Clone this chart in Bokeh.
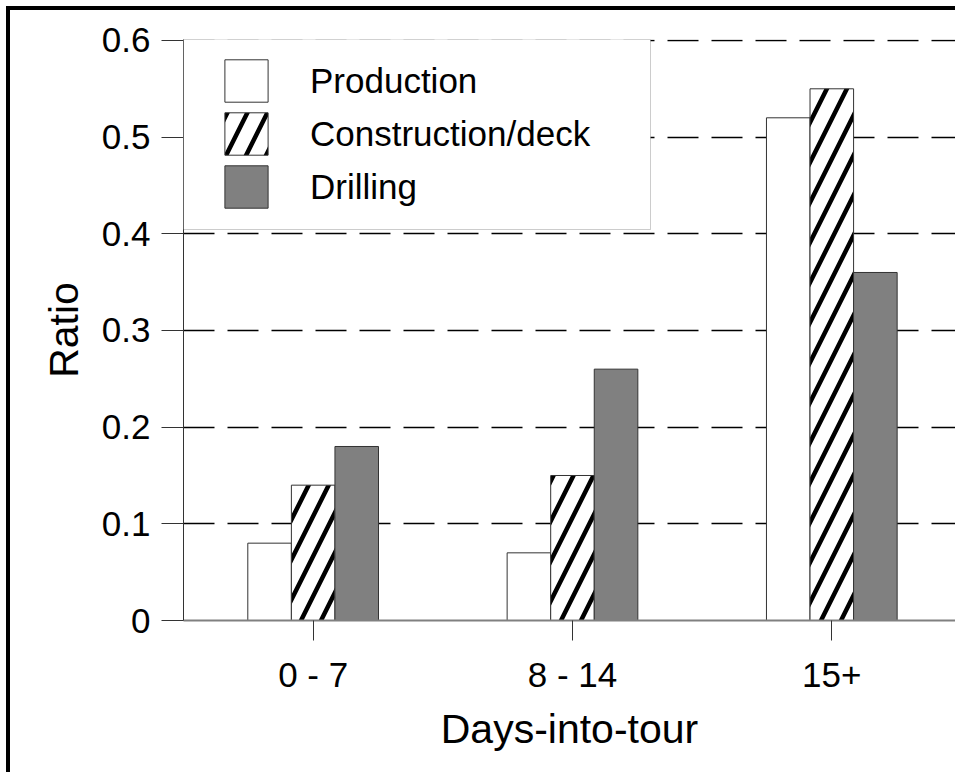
from bokeh.plotting import figure
from bokeh.models import (Range1d, FixedTicker, Legend, LegendItem, BoxAnnotation,
                          ColumnDataSource, GlobalInlineStyleSheet)
from bokeh.transform import dodge
from bokeh.embed import file_html
from bokeh.resources import INLINE

# Ratio of incidents by days into the tour, per work type
categories = ["0 - 7", "8 - 14", "15+"]
production = [0.08, 0.07, 0.52]
construction = [0.14, 0.15, 0.55]
drilling = [0.18, 0.26, 0.36]
y_ticks = [0, 0.1, 0.2, 0.3, 0.4, 0.5, 0.6]
y_tick_labels = ["0", "0.1", "0.2", "0.3", "0.4", "0.5", "0.6"]

FONT = "Liberation Sans"
BAR_W = 0.168

positions = list(range(len(categories)))
source = ColumnDataSource(dict(x=positions, production=production,
                               construction=construction, drilling=drilling))

p = figure(width=955, height=772, output_backend="svg", toolbar_location=None,
           x_range=Range1d(-0.5, 2.477), y_range=Range1d(0, 0.601),
           min_border_left=183, min_border_right=0, min_border_top=39,
           min_border_bottom=152)
p.outline_line_color = None
p.background_fill_color = "white"
p.border_fill_color = "white"

# horizontal dashed reference lines
p.xgrid.visible = False
p.ygrid.ticker = FixedTicker(ticks=y_ticks[1:])
p.ygrid.grid_line_color = "black"
p.ygrid.grid_line_width = 1.4
p.ygrid.grid_line_dash = "31 13"

outline = "#333333"
r_prod = p.vbar(x=dodge("x", -BAR_W, range=p.x_range), top="production", width=BAR_W,
                source=source, fill_color="white", line_color=outline, line_width=1)
r_cons = p.vbar(x=dodge("x", 0, range=p.x_range), top="construction", width=BAR_W,
                source=source, fill_color="white", line_color=outline, line_width=1,
                hatch_pattern="/", hatch_color="black", hatch_weight=4.5,
                hatch_scale=40)
r_dril = p.vbar(x=dodge("x", BAR_W, range=p.x_range), top="drilling", width=BAR_W,
                source=source, fill_color="#808080", line_color=outline, line_width=1)

# y axis
ya = p.yaxis[0]
ya.ticker = FixedTicker(ticks=y_ticks)
ya.major_label_overrides = {t: s for t, s in zip(y_ticks, y_tick_labels)}
ya.minor_tick_line_color = None
ya.major_tick_in = 0
ya.major_tick_out = 22
ya.major_tick_line_color = "#333333"
ya.axis_line_color = "#333333"
ya.major_label_standoff = 11
ya.major_label_text_font = FONT
ya.major_label_text_font_size = "35px"
ya.major_label_text_color = "black"
ya.axis_label = "Ratio"
ya.axis_label_text_font = FONT
ya.axis_label_text_font_size = "41px"
ya.axis_label_text_font_style = "normal"
ya.axis_label_text_color = "black"
ya.axis_label_standoff = 12

# x axis
xa = p.xaxis[0]
xa.ticker = FixedTicker(ticks=positions)
xa.major_label_overrides = {i: c for i, c in zip(positions, categories)}
xa.minor_tick_line_color = None
xa.major_tick_in = 0
xa.major_tick_out = 20
xa.major_tick_line_color = "#333333"
xa.axis_line_color = "#808080"
xa.axis_line_width = 2
xa.major_label_standoff = 14
xa.major_label_text_font = FONT
xa.major_label_text_font_size = "35px"
xa.major_label_text_color = "black"
xa.axis_label = "Days-into-tour"
xa.axis_label_text_font = FONT
xa.axis_label_text_font_size = "41px"
xa.axis_label_text_font_style = "normal"
xa.axis_label_text_color = "black"
xa.axis_label_standoff = 9

# legend panel
legend_box = BoxAnnotation(left=183, right=650, top=39, bottom=229,
                           left_units="canvas", right_units="canvas",
                           top_units="canvas", bottom_units="canvas",
                           fill_color="white", fill_alpha=1,
                           line_color="#555555", line_width=1)
p.add_layout(legend_box)

legend = Legend(items=[LegendItem(label="Production", renderers=[r_prod]),
                       LegendItem(label="Construction/deck", renderers=[r_cons]),
                       LegendItem(label="Drilling", renderers=[r_dril])],
                location=(36, 407), padding=0, spacing=0, margin=0,
                glyph_width=54, glyph_height=53, label_standoff=37,
                label_text_font=FONT, label_text_font_size="35px",
                label_text_color="black",
                background_fill_alpha=0, border_line_color=None)
p.add_layout(legend)

# heavy rule along the top and left edges of the page, drawn over the canvas
p.stylesheets = [GlobalInlineStyleSheet(css="""
html, body { overflow: hidden; }
body::before {
    content: ""; position: fixed; left: 6px; top: 6px; right: 0; bottom: 0;
    border-top: 4px solid black; border-left: 4px solid black;
    pointer-events: none; z-index: 100;
}
""")]

open("out.html", "w").write(file_html(p, INLINE))
